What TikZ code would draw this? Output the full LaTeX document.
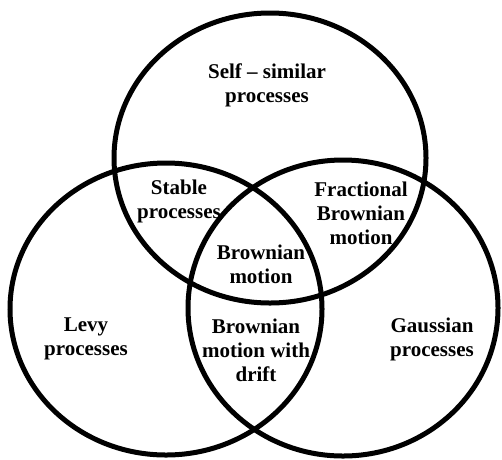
\documentclass[tikz,border=0pt]{standalone}
\usepackage{fontspec}
\setmainfont{Liberation Serif}
\begin{document}
\begin{tikzpicture}[x=1pt,y=-1pt,
  ring/.style={line width=5pt,draw=black},
  lbl/.style={align=center,inner sep=0pt,font=\bfseries\fontsize{21}{24}\selectfont}]
\useasboundingbox (0,0) rectangle (502,459);
\fill[white] (0,0) rectangle (502,459);
\draw[ring] (270,158) ellipse [x radius=156pt, y radius=145pt];
\draw[ring] (166,309) ellipse [x radius=156pt, y radius=146pt];
\draw[ring] (343,308) ellipse [x radius=155pt, y radius=148pt];
\node[lbl] (selfsim) at (267,85) {Self -- similar\\processes};
\node[lbl] (stable) at (179,201) {Stable\\processes};
\node[lbl] (fbm) at (361,213) {Fractional\\Brownian\\motion};
\node[lbl] (bm) at (261,264) {Brownian\\motion};
\node[lbl] (levy) at (86,339) {Levy\\processes};
\node[lbl] (bmd) at (256,350) {Brownian\\motion with\\drift};
\node[lbl] (gauss) at (432,339) {Gaussian\\processes};
\end{tikzpicture}
\end{document}
